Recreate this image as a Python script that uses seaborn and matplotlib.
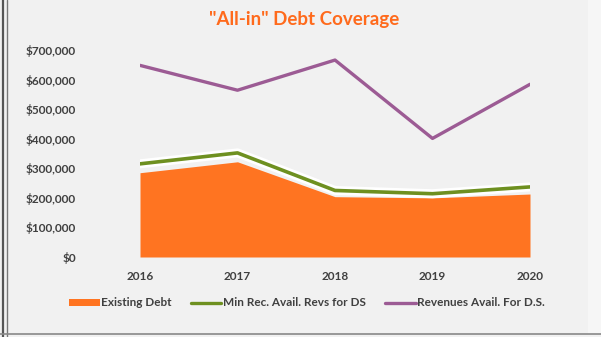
import matplotlib
matplotlib.use("Agg")
import matplotlib.pyplot as plt
import matplotlib.patheffects as pe
from matplotlib.lines import Line2D
from matplotlib.patches import Patch
from matplotlib.ticker import FuncFormatter
import pandas as pd
import seaborn as sns

years = ["2016", "2017", "2018", "2019", "2020"]
existing_debt = [285000, 322000, 204000, 200000, 213000]
min_rec_avail = [315000, 352000, 225000, 214000, 237000]
revenues_avail = [648000, 564000, 666000, 401000, 584000]

series_names = ["Existing Debt", "Min Rec. Avail. Revs for DS", "Revenues Avail. For D.S."]
colors = {"Existing Debt": "#FF7421",
          "Min Rec. Avail. Revs for DS": "#6E9020",
          "Revenues Avail. For D.S.": "#9C5B94"}

df = pd.DataFrame({"year": years,
                   "Existing Debt": existing_debt,
                   "Min Rec. Avail. Revs for DS": min_rec_avail,
                   "Revenues Avail. For D.S.": revenues_avail})
df["pos"] = range(len(years))

sns.set_theme(style="white")
plt.rcParams["font.family"] = ["Lato", "DejaVu Sans"]

W, H = 601, 337
fig = plt.figure(figsize=(W / 100, H / 100), dpi=100)
fig.patch.set_facecolor("#F1F1F1")

# frame lines around the chart
fig.add_artist(Line2D([3 / W, 3 / W], [0, 1], color="#555555", lw=1.6))
fig.add_artist(Line2D([7 / W, 7 / W], [0, 1], color="#777777", lw=1.0))
fig.add_artist(Line2D([0, 1], [3 / H, 3 / H], color="#888888", lw=1.2))
fig.add_artist(plt.Rectangle((588 / W, 4 / H), 13 / W, 1, color="#F6F6F6",
                             transform=fig.transFigure, zorder=0))

left, right = 140 / W, 530 / W
bottom, top = (H - 257) / H, (H - 50) / H
ax = fig.add_axes([left, bottom, right - left, top - bottom])
ax.set_facecolor("none")

ax.fill_between(df["pos"], 0, df["Existing Debt"], color=colors["Existing Debt"],
                linewidth=0, zorder=1)
sns.lineplot(data=df, x="pos", y="Min Rec. Avail. Revs for DS", ax=ax,
             color=colors["Min Rec. Avail. Revs for DS"], linewidth=2.6, zorder=3,
             path_effects=[pe.Stroke(linewidth=6.5, foreground="white"), pe.Normal()])
sns.lineplot(data=df, x="pos", y="Revenues Avail. For D.S.", ax=ax,
             color=colors["Revenues Avail. For D.S."], linewidth=2.4, zorder=3)

ax.set_xlim(0, 4)
ax.set_ylim(0, 700000)
ax.set_xticks(df["pos"])
ax.set_xticklabels(years)
ax.set_yticks(range(0, 700001, 100000))
ax.yaxis.set_major_formatter(FuncFormatter(lambda v, p: f"${v:,.0f}"))
ax.set_xlabel("")
ax.set_ylabel("")
for s in ax.spines.values():
    s.set_visible(False)
ax.tick_params(axis="y", length=0, pad=46, labelsize=8.5, labelcolor="#404040")
ax.tick_params(axis="x", length=0, pad=10, labelsize=8.5, labelcolor="#404040")
for lab in ax.get_xticklabels() + ax.get_yticklabels():
    lab.set_fontweight("bold")

fig.text(304 / W, 1 - 20 / H, '"All-in" Debt Coverage', ha="center", va="center",
         fontsize=13.5, fontweight="bold", color="#FF6A1C")

handles = [Patch(facecolor=colors["Existing Debt"], edgecolor="none"),
           Line2D([], [], color=colors["Min Rec. Avail. Revs for DS"], lw=2.4),
           Line2D([], [], color=colors["Revenues Avail. For D.S."], lw=2.4)]
leg = fig.legend(handles, series_names, loc="center", bbox_to_anchor=(307 / W, 1 - 303 / H),
                 ncol=3, frameon=False, fontsize=8.5, handlelength=2.6, handleheight=0.6,
                 handletextpad=0.15, columnspacing=1.6)
for t in leg.get_texts():
    t.set_color("#404040")
    t.set_fontweight("bold")

fig.savefig("out.png", dpi=100, facecolor=fig.get_facecolor())
